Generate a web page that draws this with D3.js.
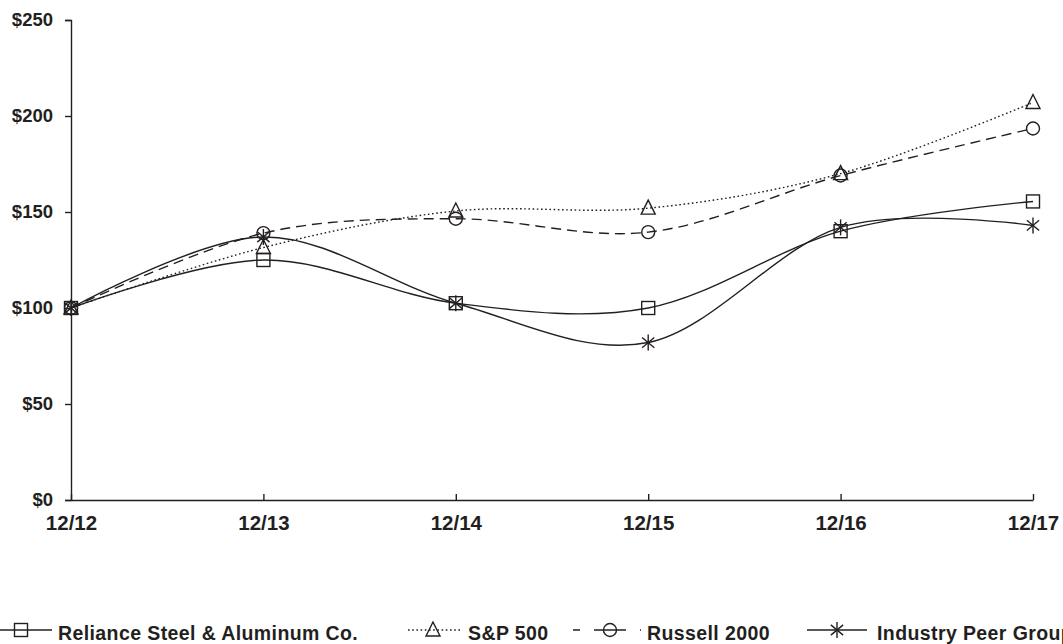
<!DOCTYPE html>
<html>
<head>
<meta charset="utf-8">
<script src="https://cdn.jsdelivr.net/npm/d3@7"></script>
<style>
  html, body { margin: 0; padding: 0; background: #fff; }
  svg { display: block; }
  text { font-family: "Liberation Sans", Arial, Helvetica, sans-serif; font-weight: bold; fill: #231f20; }
</style>
</head>
<body>
<svg id="chart" width="1063" height="644"></svg>
<script>
const categories = ["12/12", "12/13", "12/14", "12/15", "12/16", "12/17"];
const reliance = [100, 125, 102.5, 100, 140, 155.5];
const sp500 = [100, 131.5, 150.5, 152, 170, 207];
const russell = [100, 139, 146.5, 139.5, 169, 193.5];
const peer = [100, 137, 102.5, 82, 142, 143];
const yTicks = [0, 50, 100, 150, 200, 250];
const seriesNames = ["Reliance Steel & Aluminum Co.", "S&P 500", "Russell 2000", "Industry Peer Group"];

const series = [
  { name: seriesNames[0], values: reliance, marker: "square", dash: null },
  { name: seriesNames[1], values: sp500, marker: "triangle", dash: "1.6,2.6" },
  { name: seriesNames[2], values: russell, marker: "circle", dash: "10,6" },
  { name: seriesNames[3], values: peer, marker: "asterisk", dash: null }
];

const svg = d3.select("#chart");
const ink = "#231f20";

const x = d3.scalePoint().domain(categories).range([71, 1033]);
const y = d3.scaleLinear().domain([0, 250]).range([500, 20]);

// Y axis
const yAxis = svg.append("g").attr("transform", "translate(71,0)")
  .call(d3.axisLeft(y).tickValues(yTicks).tickSize(6).tickPadding(12).tickFormat(d => "$" + d));
yAxis.select(".domain").attr("stroke", ink).attr("stroke-width", 1.4);
yAxis.selectAll(".tick line").attr("stroke", ink).attr("stroke-width", 1.4);
yAxis.selectAll(".tick text").attr("font-size", 18.5).attr("fill", ink)
  .attr("font-family", "'Liberation Sans', Arial, sans-serif").attr("font-weight", "bold");

// X axis
const xAxis = svg.append("g").attr("transform", "translate(0,500)")
  .call(d3.axisBottom(x).tickSize(-6).tickSizeOuter(0).tickPadding(13));
xAxis.select(".domain").attr("stroke", ink).attr("stroke-width", 1.4);
xAxis.selectAll(".tick line").attr("stroke", ink).attr("stroke-width", 1.4);
xAxis.selectAll(".tick text").attr("font-size", 20.5).attr("fill", ink).attr("dy", "0.82em")
  .attr("font-family", "'Liberation Sans', Arial, sans-serif").attr("font-weight", "bold");

const line = d3.line()
  .x((d, i) => x(categories[i]))
  .y(d => y(d))
  .curve(d3.curveCardinal.tension(0));

function drawMarker(g, type, cx, cy) {
  const s = g.append("g").attr("transform", `translate(${cx},${cy})`)
    .attr("fill", "none").attr("stroke", ink).attr("stroke-width", 1.4);
  if (type === "square") {
    s.append("rect").attr("x", -6.5).attr("y", -6.5).attr("width", 13).attr("height", 13);
  } else if (type === "triangle") {
    s.append("path").attr("d", "M0,-8 L7,6 L-7,6 Z");
  } else if (type === "circle") {
    s.append("circle").attr("r", 6.5);
  } else if (type === "asterisk") {
    const r = 8;
    s.append("line").attr("x1", 0).attr("y1", -r).attr("x2", 0).attr("y2", r);
    const a = 50 * Math.PI / 180;
    s.append("line").attr("x1", -r * Math.sin(a)).attr("y1", -r * Math.cos(a)).attr("x2", r * Math.sin(a)).attr("y2", r * Math.cos(a));
    s.append("line").attr("x1", r * Math.sin(a)).attr("y1", -r * Math.cos(a)).attr("x2", -r * Math.sin(a)).attr("y2", r * Math.cos(a));
  }
}

const plot = svg.append("g");
series.forEach(s => {
  plot.append("path").datum(s.values)
    .attr("d", line)
    .attr("fill", "none")
    .attr("stroke", ink)
    .attr("stroke-width", 1.4)
    .attr("stroke-dasharray", s.dash);
  s.values.forEach((v, i) => drawMarker(plot, s.marker, x(categories[i]), y(v)));
});

// Legend
const legendY = 630;
const legendItems = [
  { x0: 0, x1: 52, mx: 21, tx: 58 },
  { x0: 408, x1: 461, mx: 433, tx: 468 },
  { x0: 573, x1: 641, mx: 610, tx: 647 },
  { x0: 807, x1: 867, mx: 837, tx: 877 }
];
const lg = svg.append("g");
series.forEach((s, i) => {
  const it = legendItems[i];
  lg.append("line").attr("x1", it.x0).attr("x2", it.x1).attr("y1", legendY).attr("y2", legendY)
    .attr("stroke", ink).attr("stroke-width", 1.4)
    .attr("stroke-dasharray", s.marker === "circle" ? "7,14,32,14" : s.dash);
  drawMarker(lg, s.marker, it.mx, legendY);
  lg.append("text").attr("x", it.tx).attr("y", legendY + 10)
    .attr("font-size", 19.5).attr("letter-spacing", 0.4).text(s.name);
});
</script>
</body>
</html>
